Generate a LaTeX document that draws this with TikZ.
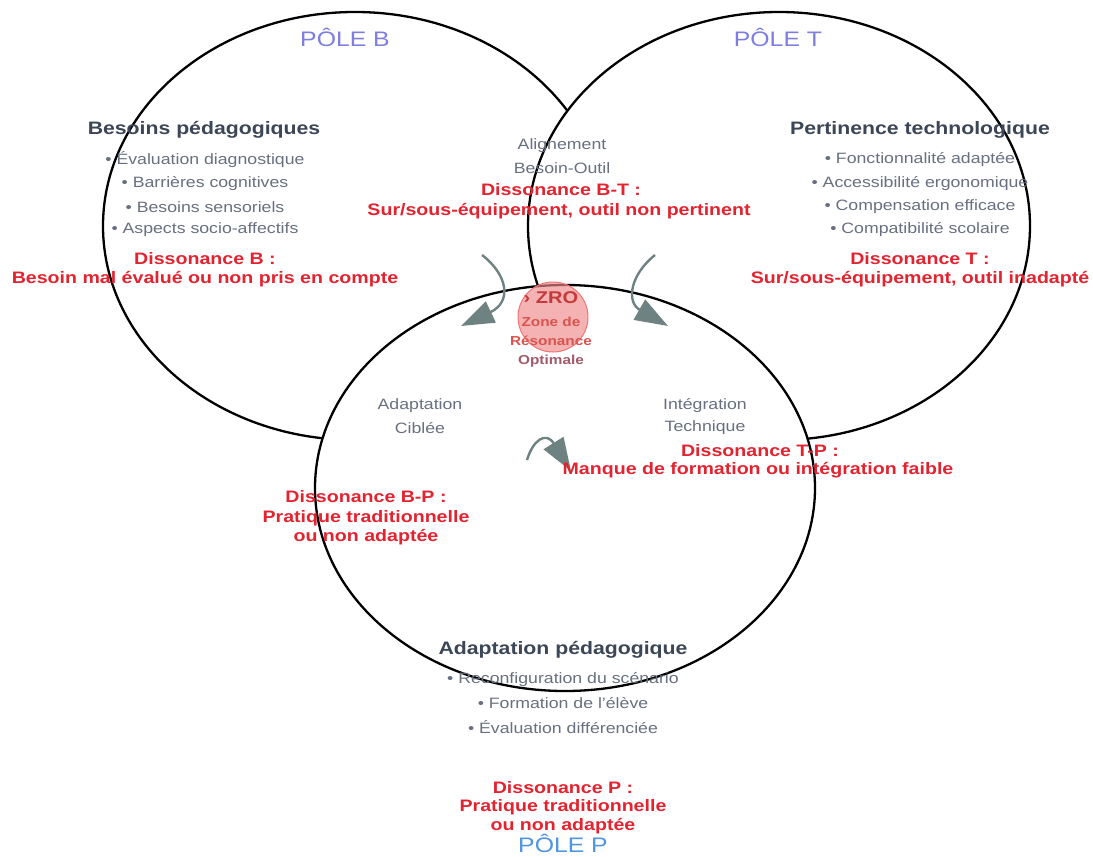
\documentclass[tikz,border=0pt]{standalone}
\usepackage{fontspec}
\setmainfont{Liberation Sans}[FakeStretch=1.18]
\usetikzlibrary{arrows.meta,shapes.geometric}
\definecolor{ttlc}{HTML}{3B4656}
\definecolor{bulc}{HTML}{687080}
\definecolor{disc}{HTML}{E3232F}
\definecolor{polec}{HTML}{7E7EE0}
\definecolor{polepc}{HTML}{4F95E0}
\definecolor{arrc}{HTML}{6F8282}
\definecolor{zroc}{HTML}{F08A8A}
\definecolor{zrot}{HTML}{C43A3A}
\definecolor{zrol}{HTML}{D9534F}
\definecolor{zrom}{HTML}{A35A6A}
\begin{document}
\begin{tikzpicture}[x=1pt,y=-1pt,
  ring/.style={ellipse,draw=black,line width=2.3pt,fill=white,inner sep=0pt},
  ttl/.style={font=\fontsize{18}{20}\selectfont\bfseries,text=ttlc,inner sep=0pt},
  bul/.style={font=\fontsize{15}{17}\selectfont,text=bulc,inner sep=0pt},
  dis/.style={font=\fontsize{16.6}{19}\selectfont\bfseries,text=disc,inner sep=0pt},
  pole/.style={font=\fontsize{21}{24}\selectfont,inner sep=0pt},
  zt/.style={font=\fontsize{13}{15}\selectfont\bfseries,inner sep=0pt},
  flow/.style={draw=arrc,line width=2.4pt,-{Triangle[length=33pt,width=23pt,fill=arrc]}}
]
\useasboundingbox (0,0) rectangle (1093,857);
\fill[white] (0,0) rectangle (1093,857);
% circles (drawn in order, each covering the previous)
\node[ring,minimum width=504pt,minimum height=428pt] (B) at (355,226) {};
\node[ring,minimum width=502pt,minimum height=428pt] (T) at (779,226) {};
\node[ring,minimum width=500pt,minimum height=406pt] (P) at (565,488) {};
% ZRO
\node[circle,fill=zroc,fill opacity=0.65,draw=zroc!85!red,line width=1pt,minimum size=70pt] (zro) at (553,317) {};
% flow arrows
\coordinate (l1) at (482,255); \coordinate (l2) at (461,326);
\coordinate (r1) at (655,255); \coordinate (r2) at (668,326);
\coordinate (m1) at (527,460); \coordinate (m2) at (571,471);
\draw[flow] (l1) .. controls (508,275) and (512,302) .. (l2);
\draw[flow] (r1) .. controls (630,275) and (626,302) .. (r2);
\draw[flow] (m1) .. controls (533,440) and (546,431) .. (m2);
% poles
\node[pole,text=polec] (pB) at (345,37) {PÔLE B};
\node[pole,text=polec] (pT) at (778,37) {PÔLE T};
\node[pole,text=polepc] (pP) at (563,843) {PÔLE P};
% pole B
\node[ttl] (tB) at (204,130) {Besoins pédagogiques};
\node[bul] (b1) at (205,160) {• Évaluation diagnostique};
\node[bul] (b2) at (205,184) {• Barrières cognitives};
\node[bul] (b3) at (205,207) {• Besoins sensoriels};
\node[bul] (b4) at (205,230) {• Aspects socio-affectifs};
\node[dis] (dB1) at (205,259) {Dissonance B :};
\node[dis] (dB2) at (205,279) {Besoin mal évalué ou non pris en compte};
% B-T
\node[bul] (al1) at (562,146) {Alignement};
\node[bul] (al2) at (562,168) {Besoin-Outil};
\node[dis] (dBT1) at (561,190) {Dissonance B-T :};
\node[dis] (dBT2) at (559,211) {Sur/sous-équipement, outil non pertinent};
% pole T
\node[ttl] (tT) at (920,130) {Pertinence technologique};
\node[bul] (t1) at (920,160) {• Fonctionnalité adaptée};
\node[bul] (t2) at (920,184) {• Accessibilité ergonomique};
\node[bul] (t3) at (920,207) {• Compensation efficace};
\node[bul] (t4) at (920,230) {• Compatibilité scolaire};
\node[dis] (dT1) at (920,259) {Dissonance T :};
\node[dis] (dT2) at (920,279) {Sur/sous-équipement, outil inadapté};
% ZRO text
\node[font=\fontsize{17}{19}\selectfont\bfseries,text=zrot,inner sep=0pt] (z1) at (551,298) {› ZRO};
\node[zt,text=zrol] (z2) at (551,322) {Zone de};
\node[zt,text=zrol] (z3) at (551,341) {Résonance};
\node[zt,text=zrom] (z4) at (551,361) {Optimale};
% B-P / T-P
\node[bul] (ac1) at (420,406) {Adaptation};
\node[bul] (ac2) at (420,428) {Ciblée};
\node[bul] (it1) at (705,406) {Intégration};
\node[bul] (it2) at (705,428) {Technique};
\node[dis] (dTP1) at (760,451) {Dissonance T-P :};
\node[dis] (dTP2) at (758,470) {Manque de formation ou intégration faible};
\node[dis] (dBP1) at (366,497) {Dissonance B-P :};
\node[dis] (dBP2) at (366,518) {Pratique traditionnelle};
\node[dis] (dBP3) at (366,537) {ou non adaptée};
% pole P
\node[ttl] (tP) at (563,650) {Adaptation pédagogique};
\node[bul] (p1) at (563,680) {• Reconfiguration du scénario};
\node[bul] (p2) at (563,703) {• Formation de l'élève};
\node[bul] (p3) at (563,727) {• Évaluation différenciée};
\node[dis] (dP1) at (563,788) {Dissonance P :};
\node[dis] (dP2) at (563,807) {Pratique traditionnelle};
\node[dis] (dP3) at (563,826) {ou non adaptée};
\end{tikzpicture}
\end{document}
